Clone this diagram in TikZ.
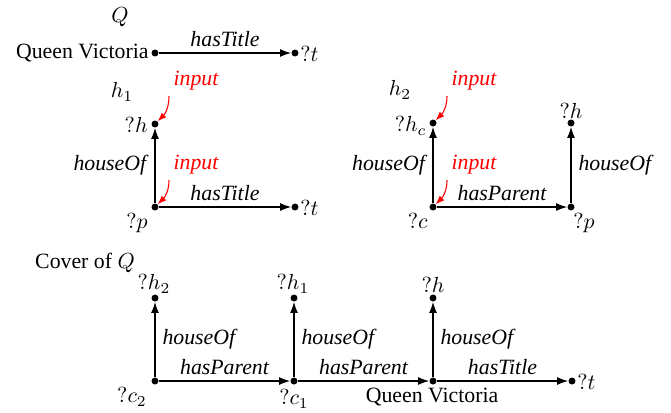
\documentclass[tikz,border=0pt]{standalone}
\usepackage{fontspec}
\setmainfont{Liberation Serif}
\usetikzlibrary{arrows.meta}
\begin{document}
\begin{tikzpicture}[x=0.4587pt,y=-0.4587pt,
  dot/.style={circle,fill,inner sep=0pt,minimum size=3.2pt},
  txt/.style={inner sep=0pt},
  rel/.style={inner sep=0pt,font=\itshape},
  edge/.style={draw,line width=0.5pt,-{Latex[length=5pt,width=3.6pt]}},
  inp/.style={inner sep=0pt,font=\itshape,text=red},
  inarrow/.style={draw=red,line width=0.5pt,-{Latex[length=4pt,width=3pt]}}]
\useasboundingbox (0,0) rectangle (671,412);

% ---- Q ----
\node[txt] (Q) at (120,17) {$Q$};
\node[dot] (qv) at (155,53) {};
\node[txt,anchor=east] (qvl) at (149,53) {Queen Victoria};
\node[dot] (t1) at (295,53) {};
\node[txt,anchor=west] (t1l) at (300,54) {$?t$};
\draw[edge] (qv) -- node[rel,above=2.5pt] {hasTitle} (t1);

% ---- h1 ----
\node[txt] (h1) at (122,92) {$h_1$};
\node[dot] (hh) at (155,124) {};
\node[txt,anchor=east] (hhl) at (148,125) {$?h$};
\node[dot] (p) at (155,207) {};
\node[txt,anchor=north east] (pl) at (148,213) {$?p$};
\node[dot] (t2) at (295,207) {};
\node[txt,anchor=west] (t2l) at (300,208) {$?t$};
\draw[edge] (p) -- node[rel,left=3.8pt] {houseOf} (hh);
\draw[edge] (p) -- node[rel,above=2.5pt] {hasTitle} (t2);
\node[inp] (in1) at (196,81) {input};
\node[inp] (in2) at (196,165) {input};
\coordinate (a1) at (169,96);
\coordinate (a2) at (169,180);
\draw[inarrow] (a1) to[out=-90,in=45] (hh);
\draw[inarrow] (a2) to[out=-90,in=45] (p);

% ---- h2 ----
\node[txt] (h2) at (400,90) {$h_2$};
\node[dot] (hc) at (433,123) {};
\node[txt,anchor=east] (hcl) at (427,126) {$?h_c$};
\node[dot] (c) at (433,207) {};
\node[txt,anchor=north east] (cl) at (428,213) {$?c$};
\node[dot] (pp) at (571,207) {};
\node[txt,anchor=north west] (ppl) at (573,213) {$?p$};
\node[dot] (hr) at (571,123) {};
\node[txt] (hrl) at (571,111) {$?h$};
\draw[edge] (c) -- node[rel,left=3.5pt] {houseOf} (hc);
\draw[edge] (c) -- node[rel,above=2.5pt] {hasParent} (pp);
\draw[edge] (pp) -- node[rel,right=3.2pt] {houseOf} (hr);
\node[inp] (in3) at (474,81) {input};
\node[inp] (in4) at (474,165) {input};
\coordinate (a3) at (447,96);
\coordinate (a4) at (447,180);
\draw[inarrow] (a3) to[out=-90,in=45] (hc);
\draw[inarrow] (a4) to[out=-90,in=45] (c);

% ---- Cover ----
\node[txt] (cov) at (85,263) {Cover of $Q$};
\node[dot] (bh2) at (155,298) {};
\node[txt] (bh2l) at (154,284) {$?h_2$};
\node[dot] (c2) at (155,381) {};
\node[txt] (c2l) at (132,397) {$?c_2$};
\node[dot] (bh1) at (294,298) {};
\node[txt] (bh1l) at (293,284) {$?h_1$};
\node[dot] (c1) at (294,381) {};
\node[txt] (c1l) at (294,399) {$?c_1$};
\node[dot] (bh) at (433,298) {};
\node[txt] (bhl) at (433,285) {$?h$};
\node[dot] (bqv) at (433,381) {};
\node[txt] (bqvl) at (432,397) {Queen Victoria};
\node[dot] (bt) at (572,381) {};
\node[txt,anchor=west] (btl) at (577,382) {$?t$};
\draw[edge] (c2) -- node[rel,right=3.2pt] {houseOf} (bh2);
\draw[edge] (c1) -- node[rel,right=3.2pt] {houseOf} (bh1);
\draw[edge] (bqv) -- node[rel,right=3.2pt] {houseOf} (bh);
\draw[edge] (c2) -- node[rel,above=2.5pt] {hasParent} (c1);
\draw[edge] (c1) -- node[rel,above=2.5pt] {hasParent} (bqv);
\draw[edge] (bqv) -- node[rel,above=2.5pt] {hasTitle} (bt);
\end{tikzpicture}
\end{document}
